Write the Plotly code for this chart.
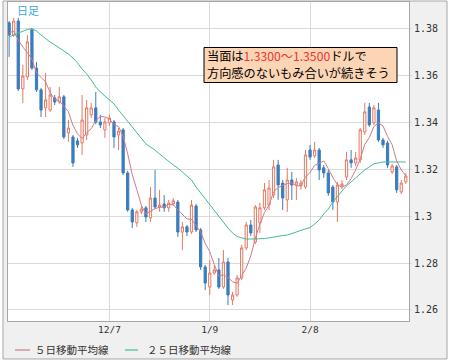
import plotly.graph_objects as go
import pandas as pd

# ---- data ----
day_index = list(range(88))
tick_positions = [22, 44, 66]
tick_labels = ["12/7", "1/9", "2/8"]
price_ticks = [1.26, 1.28, 1.30, 1.32, 1.34, 1.36, 1.38]
price_tick_labels = ["1.26", "1.28", "1.3", "1.32", "1.34", "1.36", "1.38"]

open_ = [1.3826, 1.3774, 1.3834, 1.3544, 1.3595, 1.3796, 1.3633, 1.3540, 1.3463, 1.3454,
         1.3505, 1.3488, 1.3510, 1.3356, 1.3339, 1.3322, 1.3313, 1.3347, 1.3433, 1.3463,
         1.3403, 1.3369, 1.3399, 1.3403, 1.3347, 1.3369, 1.3185, 1.3027, 1.2972, 1.3019,
         1.3036, 1.2993, 1.3078, 1.3040, 1.3053, 1.3036, 1.3053, 1.3061, 1.2933, 1.2955,
         1.2933, 1.3044, 1.2942, 1.2784, 1.2698, 1.2758, 1.2771, 1.2698, 1.2805, 1.2643,
         1.2664, 1.2737, 1.2865, 1.2963, 1.2890, 1.2972, 1.3036, 1.3048, 1.3091, 1.3219,
         1.3142, 1.3070, 1.3155, 1.3134, 1.3130, 1.3125, 1.3283, 1.3258, 1.3283, 1.3207,
         1.3185, 1.3125, 1.3061, 1.3130, 1.3168, 1.3241, 1.3228, 1.3241, 1.3360, 1.3467,
         1.3399, 1.3454, 1.3326, 1.3313, 1.3189, 1.3211, 1.3104, 1.3147]
high = [1.3834, 1.3847, 1.3847, 1.3646, 1.3774, 1.3804, 1.3659, 1.3548, 1.3612, 1.3552,
        1.3518, 1.3552, 1.3518, 1.3411, 1.3347, 1.3335, 1.3518, 1.3497, 1.3484, 1.3531,
        1.3433, 1.3420, 1.3433, 1.3411, 1.3377, 1.3377, 1.3194, 1.3036, 1.3027, 1.3044,
        1.3044, 1.3125, 1.3198, 1.3113, 1.3091, 1.3070, 1.3078, 1.3070, 1.2976, 1.2963,
        1.3070, 1.3053, 1.2950, 1.2792, 1.2814, 1.2792, 1.2822, 1.2856, 1.2822, 1.2677,
        1.2750, 1.2878, 1.2976, 1.2984, 1.3048, 1.3057, 1.3142, 1.3155, 1.3241, 1.3241,
        1.3155, 1.3207, 1.3189, 1.3164, 1.3155, 1.3283, 1.3305, 1.3318, 1.3292, 1.3219,
        1.3198, 1.3134, 1.3147, 1.3155, 1.3275, 1.3283, 1.3275, 1.3377, 1.3484, 1.3484,
        1.3475, 1.3484, 1.3335, 1.3322, 1.3224, 1.3219, 1.3155, 1.3185]
low = [1.3680, 1.3766, 1.3535, 1.3484, 1.3582, 1.3625, 1.3531, 1.3424, 1.3424, 1.3446,
       1.3475, 1.3480, 1.3330, 1.3318, 1.3211, 1.3292, 1.3262, 1.3326, 1.3420, 1.3394,
       1.3377, 1.3335, 1.3386, 1.3292, 1.3283, 1.3177, 1.3019, 1.2950, 1.2955, 1.3010,
       1.2976, 1.2976, 1.3031, 1.3019, 1.3019, 1.3019, 1.3044, 1.2912, 1.2856, 1.2916,
       1.2925, 1.2933, 1.2771, 1.2685, 1.2664, 1.2750, 1.2690, 1.2690, 1.2621, 1.2621,
       1.2656, 1.2728, 1.2856, 1.2916, 1.2882, 1.2929, 1.3027, 1.3027, 1.3078, 1.3070,
       1.3027, 1.3019, 1.3070, 1.3070, 1.3113, 1.3117, 1.3241, 1.3249, 1.3155, 1.3164,
       1.3087, 1.3027, 1.2976, 1.3117, 1.3155, 1.3207, 1.3215, 1.3228, 1.3347, 1.3382,
       1.3390, 1.3318, 1.3292, 1.3207, 1.3181, 1.3100, 1.3095, 1.3138]
close = [1.3774, 1.3834, 1.3544, 1.3599, 1.3745, 1.3633, 1.3540, 1.3454, 1.3497, 1.3518,
         1.3488, 1.3510, 1.3339, 1.3377, 1.3228, 1.3305, 1.3411, 1.3463, 1.3463, 1.3403,
         1.3390, 1.3403, 1.3420, 1.3339, 1.3364, 1.3185, 1.3027, 1.2976, 1.3019, 1.3031,
         1.2997, 1.3078, 1.3040, 1.3048, 1.3036, 1.3057, 1.3066, 1.2933, 1.2955, 1.2933,
         1.3048, 1.2942, 1.2784, 1.2715, 1.2758, 1.2771, 1.2698, 1.2805, 1.2664, 1.2664,
         1.2737, 1.2865, 1.2963, 1.2929, 1.3040, 1.3036, 1.3113, 1.3121, 1.3211, 1.3134,
         1.3078, 1.3155, 1.3134, 1.3147, 1.3142, 1.3262, 1.3253, 1.3283, 1.3198, 1.3185,
         1.3100, 1.3061, 1.3134, 1.3138, 1.3241, 1.3228, 1.3249, 1.3369, 1.3446, 1.3390,
         1.3463, 1.3326, 1.3305, 1.3219, 1.3215, 1.3113, 1.3142, 1.3172]
ma25 = [1.3766, 1.3774, 1.3783, 1.3791, 1.3798, 1.3800, 1.3791, 1.3774, 1.3757, 1.3744,
        1.3732, 1.3719, 1.3706, 1.3693, 1.3676, 1.3655, 1.3629, 1.3608, 1.3582, 1.3552,
        1.3531, 1.3514, 1.3501, 1.3480, 1.3454, 1.3429, 1.3407, 1.3382, 1.3356, 1.3330,
        1.3309, 1.3296, 1.3283, 1.3266, 1.3249, 1.3232, 1.3219, 1.3206, 1.3189, 1.3172,
        1.3155, 1.3125, 1.3100, 1.3074, 1.3048, 1.3027, 1.3001, 1.2972, 1.2950, 1.2929,
        1.2914, 1.2908, 1.2903, 1.2903, 1.2903, 1.2903, 1.2905, 1.2908, 1.2912, 1.2916,
        1.2918, 1.2920, 1.2925, 1.2933, 1.2940, 1.2946, 1.2952, 1.2967, 1.2984, 1.3010,
        1.3031, 1.3061, 1.3087, 1.3108, 1.3130, 1.3147, 1.3164, 1.3185, 1.3198, 1.3211,
        1.3224, 1.3228, 1.3232, 1.3232, 1.3232, 1.3232, 1.3232, 1.3232]
ma5_head = [1.3783, 1.3791, 1.3753, 1.3723]  # first values (earlier closes not shown)

legend_names = ["５日移動平均線", "２５日移動平均線"]
note_lines = ["当面は<span style='color:#ee3333'>1.3300～1.3500</span>ドルで",
              "方向感のないもみ合いが続きそう"]

# 5-day moving average of the closes
ma5 = pd.Series(close).rolling(5).mean().tolist()
ma5[:4] = ma5_head

UP = "#e9785f"
DOWN = "#3a7cbd"
MA5C = "#cf7a8a"
MA25C = "#45bb8e"
GRID = "#dadada"
BORDER = "#a6a6a6"
CJK = "Noto Sans CJK JP"

fig = go.Figure()
fig.add_trace(go.Candlestick(
    x=day_index, open=open_, high=high, low=low, close=close,
    increasing=dict(line=dict(color=UP, width=1), fillcolor="white"),
    decreasing=dict(line=dict(color=DOWN, width=1), fillcolor=DOWN),
    whiskerwidth=0, showlegend=False, hoverinfo="skip"))
fig.add_trace(go.Scatter(x=day_index, y=ma5, mode="lines",
                         line=dict(color=MA5C, width=1), name=legend_names[0], showlegend=False))
fig.add_trace(go.Scatter(x=day_index, y=ma25, mode="lines",
                         line=dict(color=MA25C, width=1), name=legend_names[1], showlegend=False))

shapes = [
    # outer gray frame
    dict(type="rect", xref="paper", yref="paper", x0=-0.0125, x1=1.0948, y0=-0.1191, y1=1.0031,
         fillcolor="#f0f0f0", line=dict(color=BORDER, width=1), layer="below"),
    # white plot area
    dict(type="rect", xref="paper", yref="paper", x0=0, x1=1, y0=0, y1=1,
         fillcolor="white", line=dict(width=0), layer="below"),
    # comment box
    dict(type="rect", xref="paper", yref="paper", x0=0.4888, x1=0.9701, y0=0.7476, y1=0.8574,
         fillcolor="#fcd5b5", line=dict(color="black", width=1), layer="above"),
    # legend line samples
    dict(type="line", xref="paper", yref="paper", x0=0.0175, x1=0.0549, y0=-0.0909, y1=-0.0909,
         line=dict(color=MA5C, width=1.2)),
    dict(type="line", xref="paper", yref="paper", x0=0.2918, x1=0.3242, y0=-0.0909, y1=-0.0909,
         line=dict(color=MA25C, width=1.2)),
]

annotations = [
    dict(text=legend_names[0], xref="paper", yref="paper", x=0.0623, y=-0.0909,
         xanchor="left", yanchor="middle", showarrow=False,
         font=dict(family=CJK, size=10.5, color="#333333")),
    dict(text=legend_names[1], xref="paper", yref="paper", x=0.3416, y=-0.0909,
         xanchor="left", yanchor="middle", showarrow=False,
         font=dict(family=CJK, size=10.5, color="#333333")),
    dict(text="日足", xref="paper", yref="paper", x=0.0175, y=0.975,
         xanchor="left", yanchor="middle", showarrow=False,
         font=dict(family=CJK, size=11, color="#3aa8d8")),
    dict(text=note_lines[0], xref="paper", yref="paper", x=0.4913, y=0.8292,
         xanchor="left", yanchor="middle", showarrow=False,
         font=dict(family=CJK, size=12.2, color="black")),
    dict(text=note_lines[1], xref="paper", yref="paper", x=0.4913, y=0.7759,
         xanchor="left", yanchor="middle", showarrow=False,
         font=dict(family=CJK, size=12.2, color="black")),
]

fig.update_layout(
    width=453, height=364,
    margin=dict(l=8, r=44, t=2, b=43),
    paper_bgcolor="white", plot_bgcolor="white",
    showlegend=False,
    shapes=shapes, annotations=annotations,
    xaxis=dict(range=[-0.25, 87.7], tickvals=tick_positions, ticktext=tick_labels,
               showgrid=True, gridcolor=GRID, gridwidth=1, zeroline=False,
               showline=True, linecolor=BORDER, mirror=True, ticks="",
               tickfont=dict(family="DejaVu Sans Mono", size=9.5, color="#333333"),
               rangeslider=dict(visible=False)),
    yaxis=dict(side="right", range=[1.2553, 1.3915], tickvals=price_ticks,
               ticktext=price_tick_labels, showgrid=True, gridcolor=GRID, gridwidth=1,
               zeroline=False, showline=True, linecolor=BORDER, mirror=True,
               ticks="outside", ticklen=2, tickcolor=GRID,
               tickfont=dict(family="DejaVu Sans Mono", size=10, color="#333333")),
)

fig.write_html("out.html")
